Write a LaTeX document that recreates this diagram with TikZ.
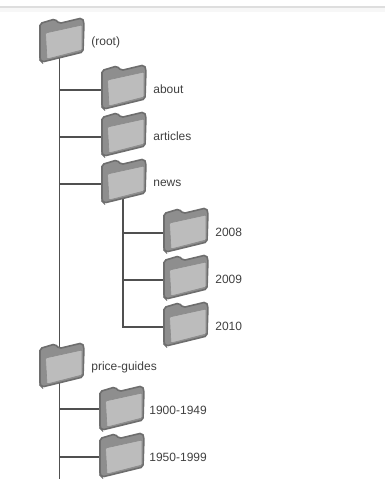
\documentclass[tikz,border=0pt]{standalone}
\usepackage{fontspec}
\setmainfont{Liberation Sans}
\usetikzlibrary{positioning,backgrounds}
\definecolor{foldline}{HTML}{6E6E6E}
\definecolor{foldback}{HTML}{8E8E8E}
\definecolor{foldfront}{HTML}{BCBCBC}
\definecolor{treeline}{HTML}{505050}
\definecolor{labeltext}{HTML}{404040}
\newcommand{\folderdrawing}{%
\begin{scope}[shift={(path picture bounding box.center)}]
\filldraw[draw=foldline, fill=foldback, line width=1.6pt, rounded corners=2pt]
(-22,-16.5) -- (-7,-21) -- (-3,-16.5) -- (20,-22) -- (22,-18) -- (21,12) -- (-20,22) -- (-22,20) -- cycle;
\filldraw[draw=foldline!80, fill=foldfront, line width=.6pt, rounded corners=1pt]
(-16.5,-7) -- (20,-15) -- (20,10) -- (-15,19) -- cycle;
\end{scope}}
\begin{document}
\begin{tikzpicture}
[
x=1pt, y=-1pt,
folder/.style={rectangle, minimum size=46pt, inner sep=0pt, node distance=47pt, path picture={\folderdrawing}},
foldername/.style={text=labeltext, font=\fontsize{12}{14}\selectfont, inner sep=0pt, yshift=-2pt},
branch/.style={draw=treeline, line width=1.4pt}
]
\useasboundingbox (0,0) rectangle (385,479);
\fill[black!13] (0,6) rectangle (385,8);
\fill[black!3] (0,8) rectangle (385,12);

%Nodes
\node[folder]       (root)      at (62,40)          {};
\node[folder]       (about)     at (124,87)         {};
\node[folder]       (articles)  [below of=about]    {};
\node[folder]       (news)      [below of=articles] {};
\node[folder]       (y2008)     at (186,230)        {};
\node[folder]       (y2009)     [below of=y2008]    {};
\node[folder]       (y2010)     [below of=y2009]    {};
\node[folder]       (guides)    at (62,365)         {};
\node[folder]       (y1900)     at (122,408)        {};
\node[folder]       (y1950)     [below of=y1900]    {};
\coordinate         (treeend)   at (59.5,479);

\node[foldername]   (rootname)     [right=6pt of root]     {(root)};
\node[foldername]   (aboutname)    [right=6pt of about]    {about};
\node[foldername]   (articlesname) [right=6pt of articles] {articles};
\node[foldername]   (newsname)     [right=6pt of news]     {news};
\node[foldername]   (y2008name)    [right=6pt of y2008]    {2008};
\node[foldername]   (y2009name)    [right=6pt of y2009]    {2009};
\node[foldername]   (y2010name)    [right=6pt of y2010]    {2010};
\node[foldername]   (guidesname)   [right=6pt of guides]   {price-guides};
\node[foldername]   (y1900name)    [right=4pt of y1900]    {1900-1949};
\node[foldername]   (y1950name)    [right=4pt of y1950]    {1950-1999};

%Lines
\begin{scope}[on background layer]
\draw[branch] ([xshift=-2.5pt]root.center) -- ([xshift=-2.5pt]guides.center) -- (treeend);
\draw[branch] ([yshift=-3pt]about.center) -| ([xshift=-2.5pt]root.center);
\draw[branch] ([yshift=-3pt]articles.center) -| ([xshift=-2.5pt]root.center);
\draw[branch] ([yshift=-3pt]news.center) -| ([xshift=-2.5pt]root.center);
\draw[branch] ([yshift=-3pt]y2008.center) -| ([xshift=-1pt]news.center);
\draw[branch] ([yshift=-3pt]y2009.center) -| ([xshift=-1pt]news.center);
\draw[branch] ([yshift=-3pt]y2010.center) -| ([xshift=-1pt]news.center);
\draw[branch] ([yshift=-1pt]y1900.center) -| ([xshift=-2.5pt]guides.center);
\draw[branch] ([yshift=-2pt]y1950.center) -| ([xshift=-2.5pt]guides.center);
\end{scope}
\end{tikzpicture}
\end{document}
